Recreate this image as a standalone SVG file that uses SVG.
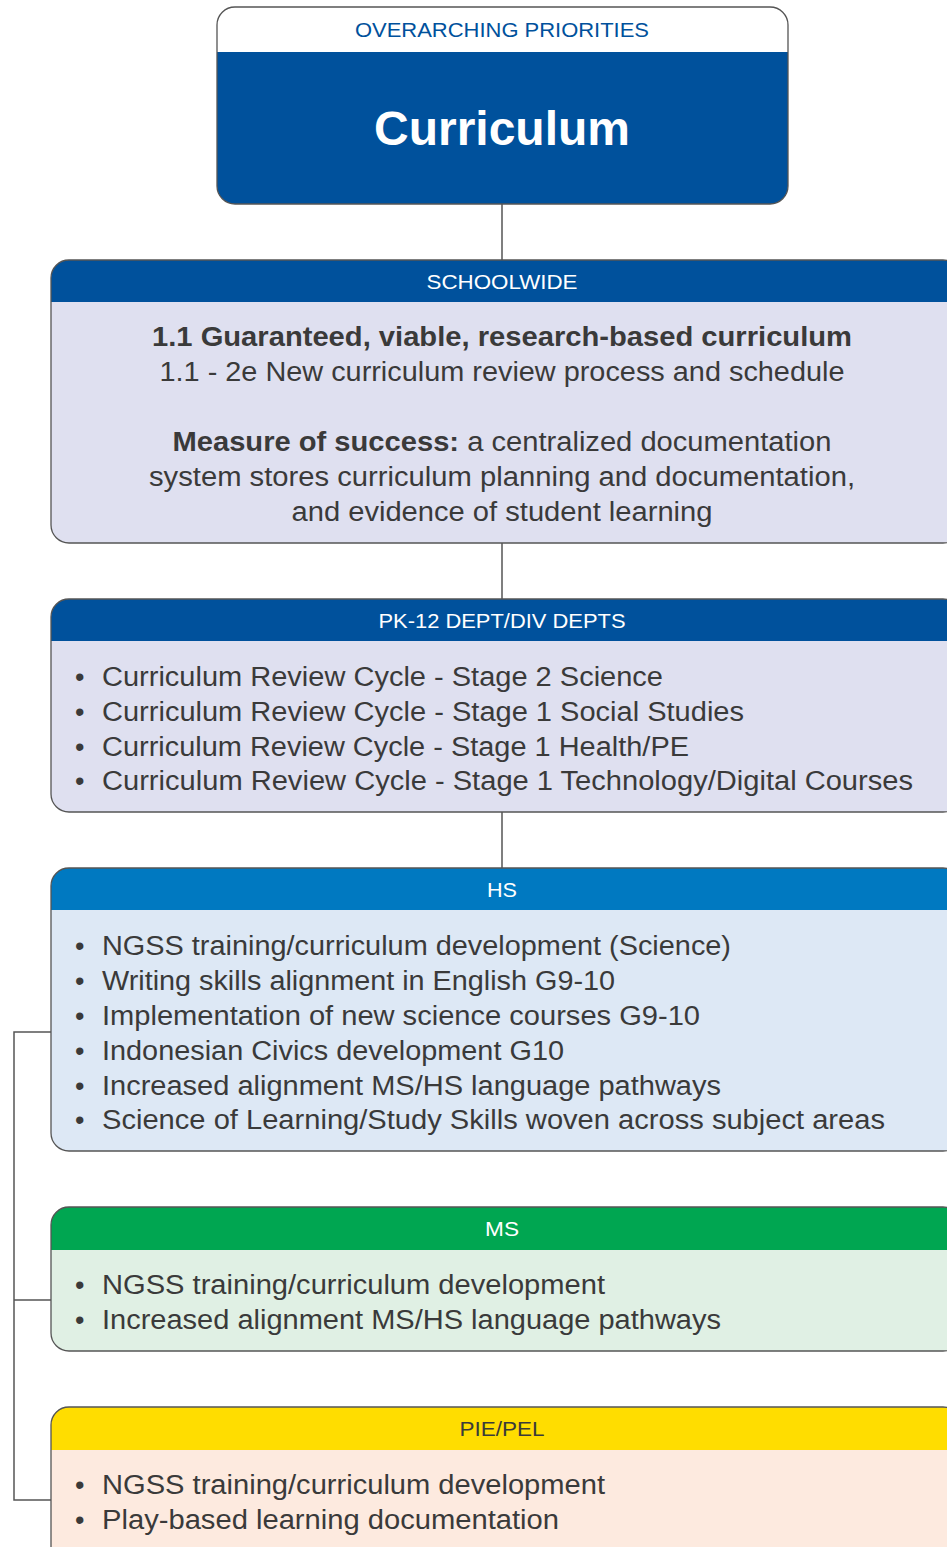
<svg xmlns="http://www.w3.org/2000/svg" width="947" height="1547" viewBox="0 0 947 1547">
<defs>
<style>
text{font-family:"Liberation Sans",Arial,sans-serif;}
.box{stroke:#555;stroke-width:1.3;}
.hdr{font-size:21px;fill:#fff;text-anchor:middle;}
.body{font-size:27px;fill:#3a3a3a;}
.c{text-anchor:middle;}
.b{font-weight:bold;}
.conn{stroke:#555;stroke-width:1.5;fill:none;}
</style>
<clipPath id="cTop"><rect x="217" y="7" width="571" height="197" rx="18"/></clipPath>
<clipPath id="cS"><rect x="51" y="260" width="910" height="283" rx="18"/></clipPath>
<clipPath id="cP"><rect x="51" y="599" width="910" height="213" rx="18"/></clipPath>
<clipPath id="cH"><rect x="51" y="868" width="910" height="283" rx="18"/></clipPath>
<clipPath id="cM"><rect x="51" y="1207" width="910" height="144" rx="18"/></clipPath>
<clipPath id="cE"><rect x="51" y="1407" width="910" height="160" rx="18"/></clipPath>
</defs>
<rect width="947" height="1547" fill="#fff"/>
<g id="connectors">
<path class="conn" d="M502 204V260M502 543V599M502 812V868"/>
<path class="conn" d="M51 1032H14V1500H51M14 1300H51"/>
</g>
<g id="overarching">
<g clip-path="url(#cTop)">
<rect x="217" y="7" width="571" height="197" fill="#fff"/>
<rect x="217" y="52" width="571" height="152" fill="#00519c"/>
</g>
<rect class="box" x="217" y="7" width="571" height="197" rx="18" fill="none"/>
<text x="502" y="37" font-size="21" fill="#00519c" text-anchor="middle" textLength="294" lengthAdjust="spacingAndGlyphs">OVERARCHING PRIORITIES</text>
<text x="502" y="145" font-size="48" font-weight="bold" fill="#fff" text-anchor="middle" textLength="256" lengthAdjust="spacingAndGlyphs">Curriculum</text>
</g>
<g id="schoolwide">
<g clip-path="url(#cS)">
<rect x="51" y="260" width="910" height="283" fill="#dfe0f0"/>
<rect x="51" y="260" width="910" height="42" fill="#00519c"/>
</g>
<rect class="box" x="51" y="260" width="910" height="283" rx="18" fill="none"/>
<text class="hdr" x="502" y="289" textLength="151" lengthAdjust="spacingAndGlyphs">SCHOOLWIDE</text>
<text class="body c b" x="502" y="346" textLength="700" lengthAdjust="spacingAndGlyphs">1.1 Guaranteed, viable, research-based curriculum</text>
<text class="body c" x="502" y="381" textLength="685" lengthAdjust="spacingAndGlyphs">1.1 - 2e New curriculum review process and schedule</text>
<text class="body c" x="502" y="451" textLength="659" lengthAdjust="spacingAndGlyphs"><tspan font-weight="bold">Measure of success:</tspan> a centralized documentation</text>
<text class="body c" x="502" y="486" textLength="706" lengthAdjust="spacingAndGlyphs">system stores curriculum planning and documentation,</text>
<text class="body c" x="502" y="521" textLength="421" lengthAdjust="spacingAndGlyphs">and evidence of student learning</text>
</g>
<g id="pk12">
<g clip-path="url(#cP)">
<rect x="51" y="599" width="910" height="213" fill="#dfe0f0"/>
<rect x="51" y="599" width="910" height="42" fill="#00519c"/>
</g>
<rect class="box" x="51" y="599" width="910" height="213" rx="18" fill="none"/>
<text class="hdr" x="502" y="628" textLength="247" lengthAdjust="spacingAndGlyphs">PK-12 DEPT/DIV DEPTS</text>
<text class="body" x="75" y="686">•</text><text class="body" x="102" y="686" textLength="561" lengthAdjust="spacingAndGlyphs">Curriculum Review Cycle - Stage 2 Science</text>
<text class="body" x="75" y="721">•</text><text class="body" x="102" y="721" textLength="642" lengthAdjust="spacingAndGlyphs">Curriculum Review Cycle - Stage 1 Social Studies</text>
<text class="body" x="75" y="756">•</text><text class="body" x="102" y="756" textLength="587" lengthAdjust="spacingAndGlyphs">Curriculum Review Cycle - Stage 1 Health/PE</text>
<text class="body" x="75" y="790">•</text><text class="body" x="102" y="790" textLength="811" lengthAdjust="spacingAndGlyphs">Curriculum Review Cycle - Stage 1 Technology/Digital Courses</text>
</g>
<g id="hs">
<g clip-path="url(#cH)">
<rect x="51" y="868" width="910" height="283" fill="#dde8f5"/>
<rect x="51" y="868" width="910" height="42" fill="#0079c1"/>
</g>
<rect class="box" x="51" y="868" width="910" height="283" rx="18" fill="none"/>
<text class="hdr" x="502" y="897" textLength="30" lengthAdjust="spacingAndGlyphs">HS</text>
<text class="body" x="75" y="955">•</text><text class="body" x="102" y="955" textLength="629" lengthAdjust="spacingAndGlyphs">NGSS training/curriculum development (Science)</text>
<text class="body" x="75" y="990">•</text><text class="body" x="102" y="990" textLength="513" lengthAdjust="spacingAndGlyphs">Writing skills alignment in English G9-10</text>
<text class="body" x="75" y="1025">•</text><text class="body" x="102" y="1025" textLength="598" lengthAdjust="spacingAndGlyphs">Implementation of new science courses G9-10</text>
<text class="body" x="75" y="1060">•</text><text class="body" x="102" y="1060" textLength="462" lengthAdjust="spacingAndGlyphs">Indonesian Civics development G10</text>
<text class="body" x="75" y="1095">•</text><text class="body" x="102" y="1095" textLength="619" lengthAdjust="spacingAndGlyphs">Increased alignment MS/HS language pathways</text>
<text class="body" x="75" y="1129">•</text><text class="body" x="102" y="1129" textLength="783" lengthAdjust="spacingAndGlyphs">Science of Learning/Study Skills woven across subject areas</text>
</g>
<g id="ms">
<g clip-path="url(#cM)">
<rect x="51" y="1207" width="910" height="144" fill="#e0f0e4"/>
<rect x="51" y="1207" width="910" height="43" fill="#00a651"/>
</g>
<rect class="box" x="51" y="1207" width="910" height="144" rx="18" fill="none"/>
<text class="hdr" x="502" y="1236" textLength="34" lengthAdjust="spacingAndGlyphs">MS</text>
<text class="body" x="75" y="1294">•</text><text class="body" x="102" y="1294" textLength="503" lengthAdjust="spacingAndGlyphs">NGSS training/curriculum development</text>
<text class="body" x="75" y="1329">•</text><text class="body" x="102" y="1329" textLength="619" lengthAdjust="spacingAndGlyphs">Increased alignment MS/HS language pathways</text>
</g>
<g id="piepel">
<g clip-path="url(#cE)">
<rect x="51" y="1407" width="910" height="160" fill="#fdeadf"/>
<rect x="51" y="1407" width="910" height="43" fill="#ffdd00"/>
</g>
<rect class="box" x="51" y="1407" width="910" height="160" rx="18" fill="none"/>
<text class="hdr" x="502" y="1436" style="fill:#3a3a3a" textLength="85" lengthAdjust="spacingAndGlyphs">PIE/PEL</text>
<text class="body" x="75" y="1494">•</text><text class="body" x="102" y="1494" textLength="503" lengthAdjust="spacingAndGlyphs">NGSS training/curriculum development</text>
<text class="body" x="75" y="1529">•</text><text class="body" x="102" y="1529" textLength="457" lengthAdjust="spacingAndGlyphs">Play-based learning documentation</text>
</g>
</svg>
